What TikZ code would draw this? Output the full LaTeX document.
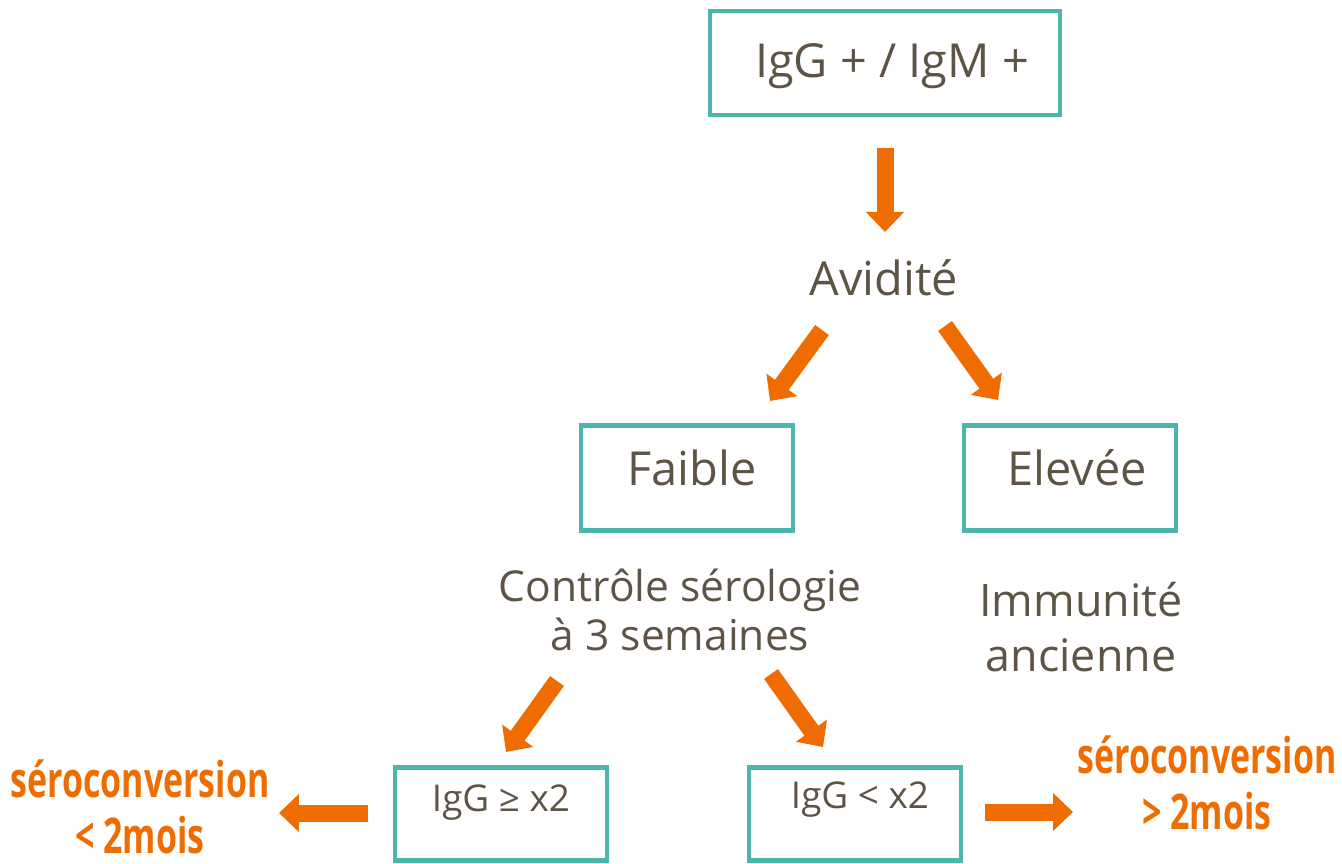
\documentclass[tikz,border=0pt]{standalone}
\usepackage{fontspec}
\setmainfont{Open Sans}
\newfontfamily\condfont[FakeStretch=0.69]{Open Sans}
\usetikzlibrary{arrows.meta}
\definecolor{tealbox}{HTML}{4DB6AC}
\definecolor{orangearr}{HTML}{EF6C00}
\definecolor{greytext}{HTML}{5E5446}

\begin{document}
\begin{tikzpicture}[x=0.02cm, y=-0.02cm,
    box/.style={draw=tealbox, line width=0.09cm, minimum width=#1, minimum height=2.1cm, inner sep=0pt},
    box/.default=4.24cm,
    txt/.style={text=greytext, align=center, font=\fontsize{#1}{#1}\selectfont},
    txt/.default=26.7,
    result/.style={text=orangearr, align=center, font=\condfont\bfseries\fontsize{28}{31.5}\selectfont},
    arrow/.style={draw=orangearr, line width=0.34cm, -{Triangle[width=0.74cm, length=0.4cm]}}
]
    \useasboundingbox (0,0) rectangle (1342,864);

    % Top test
    \node[box=7cm, minimum height=2.08cm] (serology) at (885,63) {};
    \node[txt] (serotext) at (892,66) {IgG + / IgM +};
    \node[txt] (avidity) at (884,278) {Avidité};

    % Avidity result
    \node[box] (low) at (687,478) {};
    \node[txt] (lowtext) at (692,468) {Faible};
    \node[box] (high) at (1070,478) {};
    \node[txt] (hightext) at (1077,468) {Elevée};

    \node[txt={24.2}, font=\fontsize{24.2}{28.3}\selectfont] (control) at (680,610) {Contrôle sérologie\\à 3 semaines};
    \node[txt={25.5}, font=\fontsize{25.5}{31}\selectfont] (immunity) at (1081,627) {Immunité\\ancienne};

    % Control at 3 weeks
    \node[box, minimum height=1.86cm] (double) at (501,814) {};
    \node[txt={21}] (doubletext) at (501,803) {IgG ≥ x2};
    \node[box, minimum height=1.86cm] (stable) at (855,814) {};
    \node[txt={21}] (stabletext) at (860,800) {IgG < x2};

    \node[result] (early) at (140,807) {séroconversion\\< 2mois};
    \node[result] (late) at (1207,783) {séroconversion\\> 2mois};

    % Arrows
    \coordinate (a1s) at (885,148); \coordinate (a1e) at (885,232);
    \coordinate (a2s) at (822,330); \coordinate (a2e) at (770,401);
    \coordinate (a3s) at (945,326); \coordinate (a3e) at (998,400);
    \coordinate (a4s) at (557,681); \coordinate (a4e) at (506,752);
    \coordinate (a5s) at (771,674); \coordinate (a5e) at (823,747);
    \coordinate (a6s) at (368,813); \coordinate (a6e) at (279,813);
    \coordinate (a7s) at (985,812); \coordinate (a7e) at (1073,812);
    \draw[arrow] (a1s) -- (a1e);
    \draw[arrow] (a2s) -- (a2e);
    \draw[arrow] (a3s) -- (a3e);
    \draw[arrow] (a4s) -- (a4e);
    \draw[arrow] (a5s) -- (a5e);
    \draw[arrow] (a6s) -- (a6e);
    \draw[arrow] (a7s) -- (a7e);
\end{tikzpicture}
\end{document}
